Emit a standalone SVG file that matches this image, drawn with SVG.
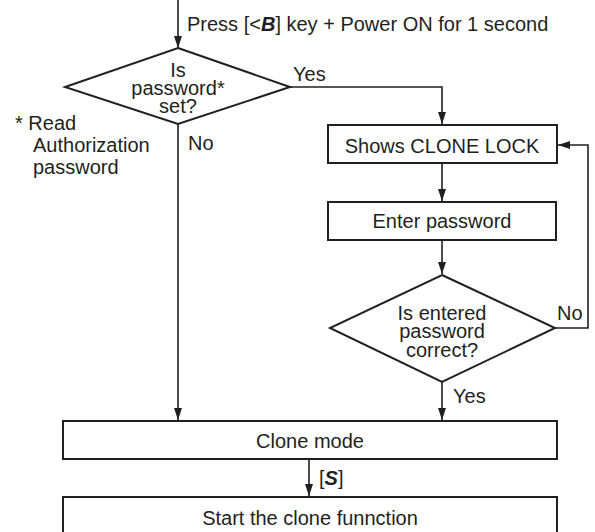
<svg xmlns="http://www.w3.org/2000/svg" width="595" height="532" viewBox="0 0 595 532">
<style>
text{font-family:"Liberation Sans",Arial,sans-serif;font-size:20px;fill:#231f20}
.c{text-anchor:middle}
.box{fill:#fff;stroke:#231f20;stroke-width:2}
.ln{fill:none;stroke:#231f20;stroke-width:1.6}
.bi{font-weight:bold;font-style:italic}
</style>
<defs>
<marker id="ah" markerUnits="userSpaceOnUse" markerWidth="12" markerHeight="8" viewBox="0 0 12 8" refX="12" refY="4" orient="auto">
<path d="M0,0 L12,4 L0,8 z" fill="#231f20"/>
</marker>
</defs>
<rect width="595" height="532" fill="#fff"/>
<g id="connectors">
<path class="ln" d="M178,0 V48" marker-end="url(#ah)"/>
<path class="ln" d="M290,87 H442 V124" marker-end="url(#ah)"/>
<path class="ln" d="M178,124 V420" marker-end="url(#ah)"/>
<path class="ln" d="M442,163 V201" marker-end="url(#ah)"/>
<path class="ln" d="M442,240 V274" marker-end="url(#ah)"/>
<path class="ln" d="M555,328 H588 V145 H558" marker-end="url(#ah)"/>
<path class="ln" d="M442,382 V420" marker-end="url(#ah)"/>
<path class="ln" d="M309,459 V496" marker-end="url(#ah)"/>
<text x="187" y="31">Press [&lt;<tspan class="bi">B</tspan>] key + Power ON for 1 second</text>
<text x="293" y="81">Yes</text>
<text x="188" y="150">No</text>
<text x="557" y="320">No</text>
<text x="453" y="403">Yes</text>
<text x="319" y="485">[<tspan class="bi">S</tspan>]</text>
</g>
<g id="note">
<text x="15" y="130">* Read</text>
<text x="33" y="152">Authorization</text>
<text x="33" y="174">password</text>
</g>
<g id="d1">
<polygon class="box" points="178,48 290,87 178,124 65,87"/>
<text class="c" x="178" y="77">Is</text>
<text class="c" x="178" y="95">password*</text>
<text class="c" x="178" y="113">set?</text>
</g>
<g id="lock">
<rect class="box" x="328" y="125" width="229" height="38"/>
<text class="c" x="442" y="153">Shows CLONE LOCK</text>
</g>
<g id="enter">
<rect class="box" x="328" y="202" width="228" height="38"/>
<text class="c" x="442" y="228">Enter password</text>
</g>
<g id="d2">
<polygon class="box" points="442,275 555,328 442,382 330,328"/>
<text class="c" x="442" y="320">Is entered</text>
<text class="c" x="442" y="338">password</text>
<text class="c" x="442" y="357">correct?</text>
</g>
<g id="clone">
<rect class="box" x="63" y="421" width="494" height="38"/>
<text class="c" x="310" y="448">Clone mode</text>
</g>
<g id="start">
<rect class="box" x="63" y="497" width="494" height="38"/>
<text class="c" x="310" y="525">Start the clone funnction</text>
</g>
</svg>
